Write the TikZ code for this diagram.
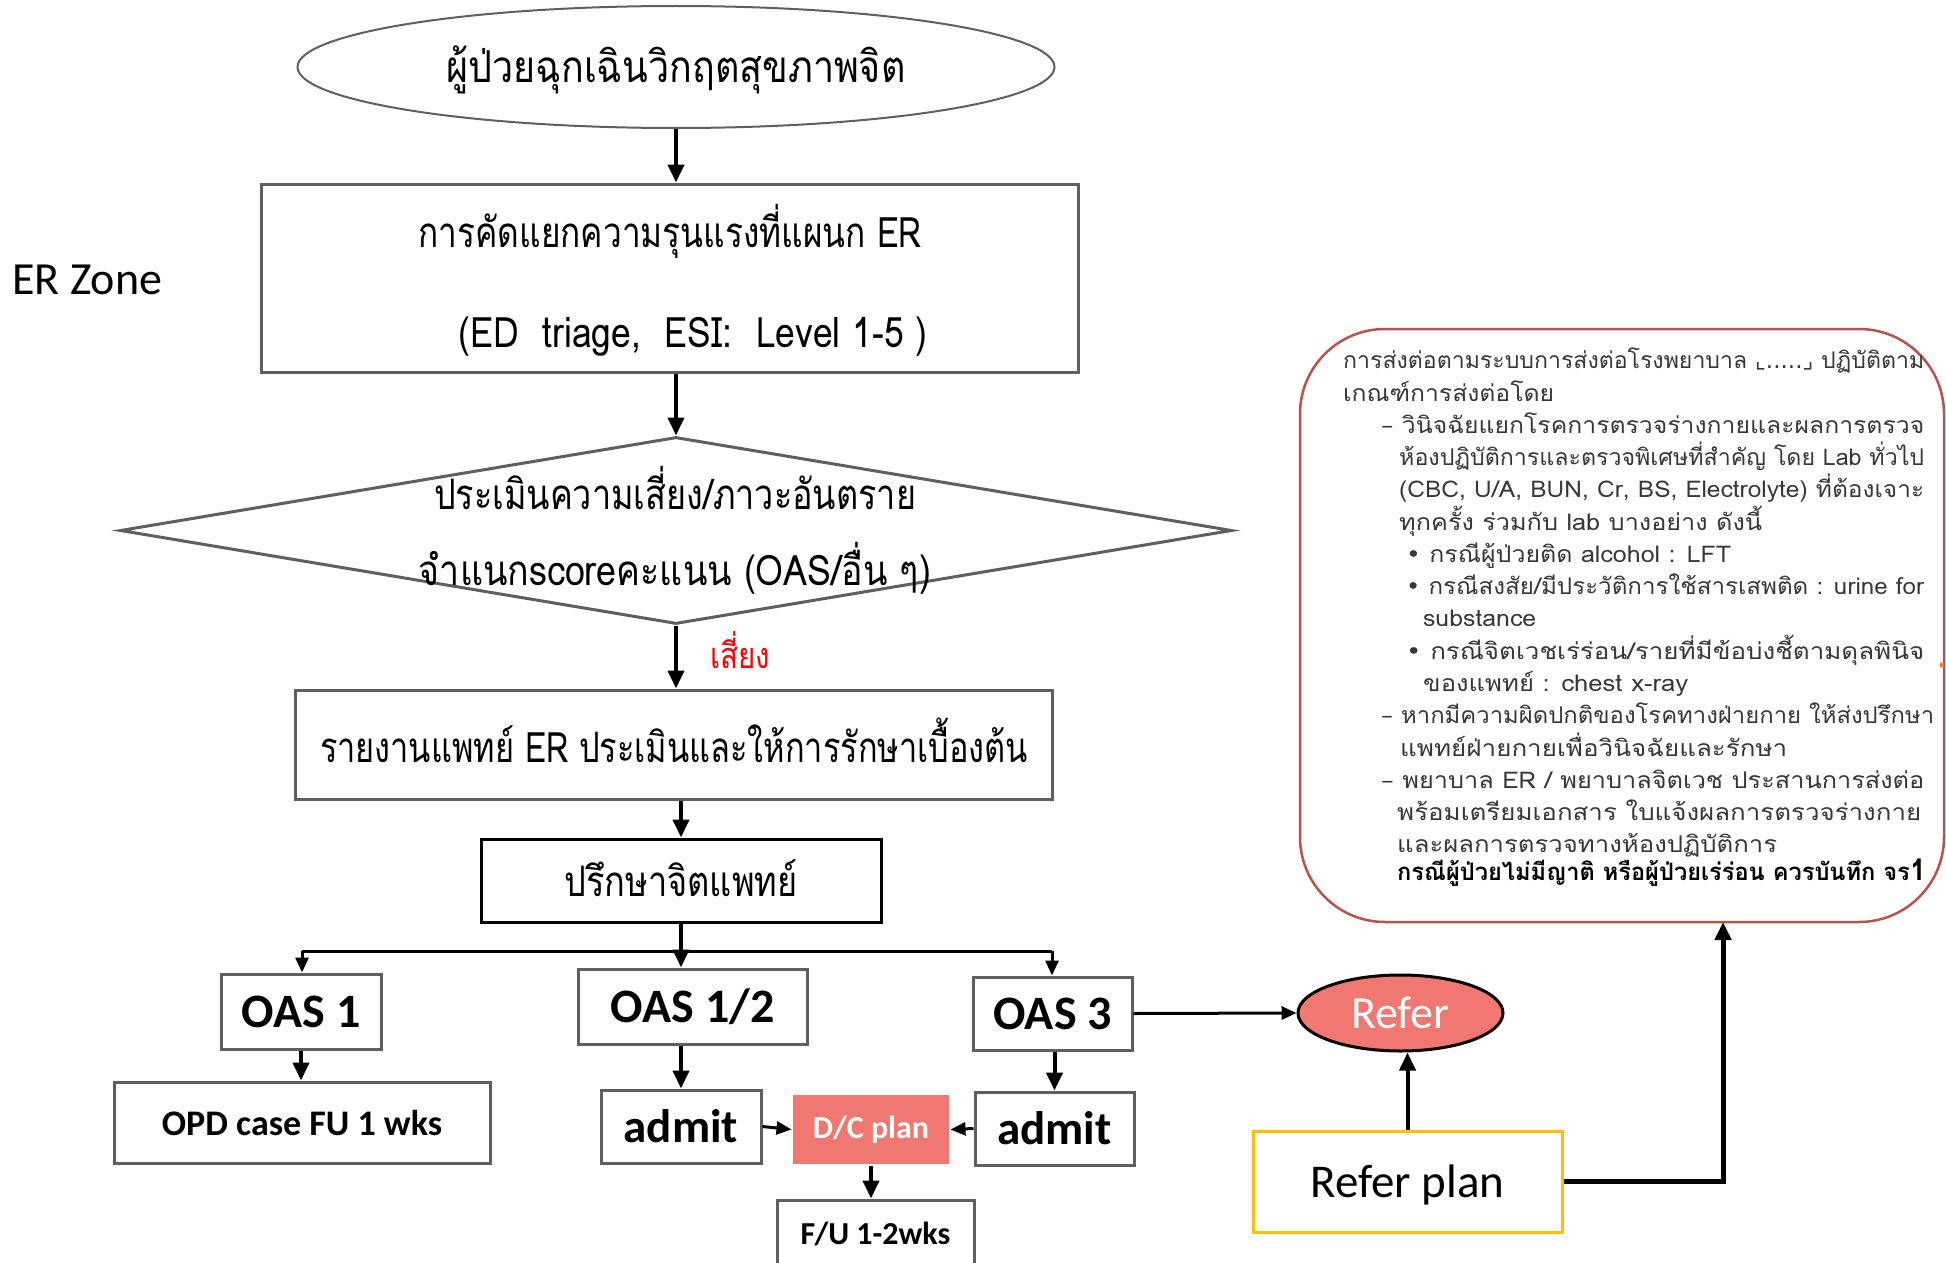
\documentclass[tikz,border=0pt]{standalone}
\usepackage{fontspec}
\usepackage{graphicx}
\usetikzlibrary{shapes.geometric,arrows.meta}
\setmainfont{Carlito}
\newfontfamily\thai[Script=Thai]{Loma}
\newfontfamily\dejavu{DejaVu Sans}
\definecolor{salmon}{RGB}{240,120,112}
\definecolor{boxgray}{RGB}{95,95,95}
\definecolor{notered}{RGB}{185,82,76}
\definecolor{notetext}{RGB}{55,55,55}
\definecolor{planyellow}{RGB}{255,192,0}
\newcommand{\thw}[3]{\resizebox{#1pt}{\height}{\thai\fontsize{#2}{#2}\selectfont #3}}
\newcommand{\ntl}[2]{\resizebox{#1pt}{\height}{\thai\fontsize{23}{23}\selectfont #2}}
\begin{document}
\begin{tikzpicture}[x=1pt,y=-1pt,
  flow/.style={draw=boxgray, line width=3pt, fill=white, inner sep=0pt},
  conn/.style={line width=4pt, -{Triangle[length=18pt,width=16pt]}},
  thin conn/.style={line width=3pt, -{Triangle[length=15pt,width=13pt]}},
  txt/.style={inner sep=0pt},
  notel/.style={inner sep=0pt, anchor=base west, text=notetext},
  latbold/.style={font=\fontsize{48}{48}\selectfont\bfseries}
]
\useasboundingbox (0,0) rectangle (1946,1263);

% ---- shapes ----
\node[ellipse, draw=boxgray, line width=2pt, fill=white, minimum width=757pt, minimum height=122pt, inner sep=0pt] (start) at (676,67) {};
\node[txt] (startt) at (676,70) {\thw{459}{44}{ผู้ป่วยฉุกเฉินวิกฤตสุขภาพจิต}};

\node[flow, minimum width=817pt, minimum height=188pt] (triage) at (669.5,278) {};
\node[txt] (triage1) at (670,231) {\thw{503}{42}{การคัดแยกความรุนแรงที่แผนก ER}};
\node[txt] (triage2) at (693,337) {\thw{469}{42}{(ED\ \ triage,\ \ ESI:\ \ Level 1-5 )}};

\node[txt] (ezone) [anchor=west] at (12,280) {\fontsize{46}{46}\selectfont ER Zone};

\node[diamond, draw=boxgray, line width=3pt, fill=white, aspect=5.95, minimum width=1112pt, minimum height=187pt, inner sep=0pt] (risk) at (676,530.5) {};
\node[txt] (risk1) at (675,488) {\thw{482}{42}{ประเมินความเสี่ยง/ภาวะอันตราย}};
\node[txt] (risk2) at (675,568) {\thw{512}{42}{จำแนกscoreคะแนน (OAS/อื่น ๆ)}};

\node[flow, minimum width=757pt, minimum height=109pt] (report) at (673.5,744.5) {};
\node[txt] (reportt) at (674,740) {\thw{708}{42}{รายงานแพทย์ ER ประเมินและให้การรักษาเบื้องต้น}};

\node[flow, draw=black, minimum width=400pt, minimum height=83pt] (psych) at (681,880.5) {};
\node[txt] (psycht) at (681,878) {\thw{233}{42}{ปรึกษาจิตแพทย์}};

\node[flow, minimum width=160pt, minimum height=75pt, latbold] (oas1) at (301,1011.5) {OAS 1};
\node[flow, minimum width=229pt, minimum height=75pt, latbold] (oas12) at (692.5,1006.5) {OAS 1/2};
\node[flow, minimum width=159pt, minimum height=73pt, latbold] (oas3) at (1052.5,1013.5) {OAS 3};

\node[flow, minimum width=376pt, minimum height=81pt, font=\fontsize{36}{36}\selectfont\bfseries] (opd) at (302,1122.5) {OPD case FU 1 wks};
\node[flow, minimum width=160pt, minimum height=73pt, font=\fontsize{47}{47}\selectfont\bfseries] (admitL) at (681,1126.5) {admit};
\node[flow, draw=none, fill=salmon, minimum width=156pt, minimum height=69pt, text=white, font=\fontsize{32}{32}\selectfont\bfseries] (dc) at (871,1129.5) {D/C plan};
\node[flow, minimum width=159pt, minimum height=73pt, font=\fontsize{47}{47}\selectfont\bfseries] (admitR) at (1054.5,1128.5) {admit};
\node[flow, minimum width=197pt, minimum height=120pt] (fu) at (875.5,1260) {};
\node[txt, font=\fontsize{32}{32}\selectfont\bfseries] (fut) at (875.5,1234) {F/U 1-2wks};

\node[ellipse, draw=black, line width=3pt, fill=salmon, minimum width=205pt, minimum height=76pt, inner sep=0pt, text=white, font=\fontsize{46}{46}\selectfont] (refer) at (1400.5,1013) {Refer};
\node[flow, draw=planyellow, minimum width=309pt, minimum height=101pt] (plan) at (1407.5,1181.5) {};
\node[txt, font=\fontsize{47}{47}\selectfont] (plant) at (1407.5,1185) {Refer plan};

% ---- note box ----
\node[draw=notered, line width=2.5pt, rounded corners=85pt, minimum width=644pt, minimum height=593pt, inner sep=0pt] (note) at (1622,625.5) {};
\node[notel] (n1) at (1343,368) {\ntl{581}{การส่งต่อตามระบบการส่งต่อโรงพยาบาล {\dejavu ⌞.....⌟} ปฏิบัติตาม}};
\node[notel] (n2) at (1343,401) {\ntl{211}{เกณฑ์การส่งต่อโดย}};
\node[notel] (n3) at (1381,433) {\ntl{543}{{\dejavu –} วินิจฉัยแยกโรคการตรวจร่างกายและผลการตรวจ}};
\node[notel] (n4) at (1399,465) {\ntl{525}{ห้องปฏิบัติการและตรวจพิเศษที่สำคัญ โดย Lab ทั่วไป}};
\node[notel] (n5) at (1399,497) {\ntl{525}{(CBC, U/A, BUN, Cr, BS, Electrolyte) ที่ต้องเจาะ}};
\node[notel] (n6) at (1399,530) {\ntl{363}{ทุกครั้ง ร่วมกับ lab บางอย่าง ดังนี้}};
\node[notel] (n7) at (1406,562) {\ntl{325}{{\dejavu •} กรณีผู้ป่วยติด alcohol : LFT}};
\node[notel] (n8) at (1406,594) {\ntl{518}{{\dejavu •} กรณีสงสัย/มีประวัติการใช้สารเสพติด : urine for}};
\node[notel] (n9) at (1423,626) {\ntl{113}{substance}};
\node[notel] (n10) at (1406,659) {\ntl{518}{{\dejavu •} กรณีจิตเวชเร่ร่อน/รายที่มีข้อบ่งชี้ตามดุลพินิจ}};
\node[notel] (n11) at (1423,691) {\ntl{265}{ของแพทย์ : chest x-ray}};
\node[notel] (n12) at (1381,723) {\ntl{553}{{\dejavu –} หากมีความผิดปกติของโรคทางฝ่ายกาย ให้ส่งปรึกษา}};
\node[notel] (n13) at (1400,756) {\ntl{387}{แพทย์ฝ่ายกายเพื่อวินิจฉัยและรักษา}};
\node[notel] (n14) at (1381,788) {\ntl{543}{{\dejavu –} พยาบาล ER / พยาบาลจิตเวช ประสานการส่งต่อ}};
\node[notel] (n15) at (1397,820) {\ntl{524}{พร้อมเตรียมเอกสาร ใบแจ้งผลการตรวจร่างกาย}};
\node[notel] (n16) at (1397,852) {\ntl{380}{และผลการตรวจทางห้องปฏิบัติการ}};
\node[notel, text=black] (n17) at (1397,880) {\resizebox{529pt}{\height}{\thai\fontsize{24}{24}\selectfont\bfseries กรณีผู้ป่วยไม่มีญาติ หรือผู้ป่วยเร่ร่อน ควรบันทึก จร{\fontsize{30}{30}\selectfont 1}}};
\fill[orange] (1942,665) circle (2.5pt);

% ---- connectors ----
\draw[conn] (start.south) -- (start.south |- triage.north);
\draw[conn] (triage.south -| risk.north) -- (risk.north);
\draw[conn] (risk.south) -- (risk.south |- report.north);
\node[txt, text=red] (risky) at (740,650) {\thw{60}{36}{เสี่ยง}};
\draw[conn] (report.south -| psych.north) -- (psych.north);
\draw[conn] (psych.south) -- (psych.south |- oas12.north);
\coordinate (brL) at (302,951);
\coordinate (brR) at (1052,951);
\draw[line width=3pt] (brL) -- (brR);
\draw[thin conn] (brL) -- (brL |- oas1.north);
\draw[thin conn] (brR) -- (brR |- oas3.north);
\draw[conn] (oas1.south) -- (oas1.south |- opd.north);
\draw[conn] (oas12.south -| admitL.north) -- (admitL.north);
\draw[conn] (oas3.south -| admitR.north) -- (admitR.north);
\draw[thin conn] (admitL.east) -- (dc.west);
\draw[thin conn] (admitR.west) -- (dc.east);
\draw[conn] (dc.south) -- (dc.south |- fu.north);
\draw[thin conn] (oas3.east) -- (refer.west);
\draw[conn] (plan.north) -- (plan.north |- refer.south);
\coordinate (nb) at (1723,922);
\draw[line width=5pt, -{Triangle[length=18pt,width=16pt]}] (plan.east) -| (nb);
\end{tikzpicture}
\end{document}
